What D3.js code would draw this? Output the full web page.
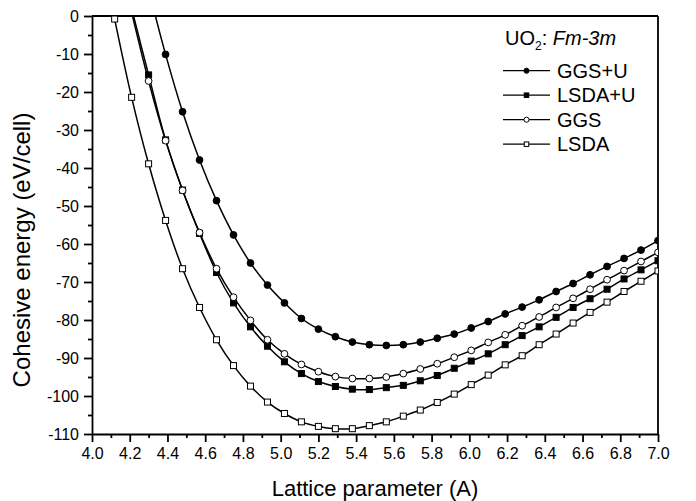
<!DOCTYPE html>
<html>
<head>
<meta charset="utf-8">
<script src="https://cdn.jsdelivr.net/npm/d3@7"></script>
<style>
  html, body { margin: 0; padding: 0; background: #fff; }
  svg { display: block; font-family: "Liberation Sans", Arial, Helvetica, sans-serif; }
</style>
</head>
<body>
<svg id="chart" width="696" height="501"></svg>
<script>
// ---- data ----
const lattice = [4.12, 4.21, 4.30, 4.39, 4.48, 4.57, 4.66, 4.75, 4.84, 4.93, 5.02, 5.11, 5.20, 5.29, 5.38, 5.47, 5.56,
                 5.65, 5.74, 5.83, 5.92, 6.01, 6.10, 6.19, 6.28, 6.37, 6.46, 6.55, 6.64, 6.73, 6.82, 6.91, 7.00];
const ggsU = [null, null, 7, -10.1, -25.2, -37.9, -48.6, -57.6, -65.0, -70.8, -75.5, -79.6, -82.4, -84.4, -85.8, -86.5, -86.7,
              -86.5, -85.8, -84.8, -83.7, -82.1, -80.4, -78.4, -76.6, -74.7, -72.5, -70.4, -68.1, -65.9, -63.8, -61.6, -59.1];
const lsdaU = [null, 2, -15.5, -32.6, -45.8, -57.2, -67.5, -75.5, -81.8, -86.9, -91.0, -94.1, -96.2, -97.5, -98.2, -98.3, -97.8,
               -97.2, -96.0, -94.6, -92.7, -90.8, -88.9, -86.5, -84.1, -81.8, -79.3, -76.7, -74.4, -71.9, -69.2, -66.8, -64.4];
const ggs = [null, 1, -17.1, -32.8, -45.9, -57.0, -66.5, -74.0, -80.1, -85.2, -88.9, -91.7, -93.6, -94.9, -95.4, -95.4, -95.0,
             -94.1, -92.9, -91.5, -89.8, -88.0, -85.9, -83.9, -81.5, -79.2, -76.7, -74.3, -71.9, -69.4, -67.0, -64.6, -62.2];
const lsda = [-0.8, -21.4, -38.9, -53.8, -66.5, -76.7, -85.2, -92.0, -97.4, -101.6, -104.6, -106.8, -108.0, -108.6, -108.6, -107.8, -106.8,
              -105.3, -103.7, -101.7, -99.5, -97.0, -94.5, -91.8, -89.4, -86.5, -83.7, -80.8, -78.0, -75.3, -72.5, -69.8, -67.1];
const seriesNames = ["GGS+U", "LSDA+U", "GGS", "LSDA"];
const seriesValues = [ggsU, lsdaU, ggs, lsda];
const seriesMarkers = ["filledCircle", "filledSquare", "openCircle", "openSquare"];
const xTickValues = [4.0, 4.2, 4.4, 4.6, 4.8, 5.0, 5.2, 5.4, 5.6, 5.8, 6.0, 6.2, 6.4, 6.6, 6.8, 7.0];
const yTickValues = [0, -10, -20, -30, -40, -50, -60, -70, -80, -90, -100, -110];
const xTitle = "Lattice parameter (A)";
const yTitle = "Cohesive energy (eV/cell)";

// ---- layout ----
const svg = d3.select("#chart");
const L = 92, R = 658, T = 16, B = 434;
const x = d3.scaleLinear().domain([4.0, 7.0]).range([L, R]);
const y = d3.scaleLinear().domain([-110, 0]).range([B, T]);

svg.append("defs").append("clipPath").attr("id", "plotclip")
  .append("rect").attr("x", L).attr("y", T).attr("width", R - L).attr("height", B - T);

// minor ticks
const xMinor = d3.range(4.1, 7.0, 0.2);
const yMinor = d3.range(-105, 0, 10);

const xAxis = d3.axisBottom(x).tickValues(xTickValues).tickFormat(d3.format(".1f")).tickSize(8).tickSizeOuter(0).tickPadding(6);
svg.append("g").attr("transform", `translate(0,${B})`).call(xAxis);
svg.append("g").attr("transform", `translate(0,${B})`)
  .call(d3.axisBottom(x).tickValues(xMinor).tickSize(4).tickFormat("").tickSizeOuter(0))
  .select(".domain").remove();

const yAxis = d3.axisLeft(y).tickValues(yTickValues).tickFormat(d => d === 0 ? "0" : "-" + Math.abs(d)).tickSize(8).tickSizeOuter(0).tickPadding(5);
svg.append("g").attr("transform", `translate(${L},0)`).call(yAxis);
svg.append("g").attr("transform", `translate(${L},0)`)
  .call(d3.axisLeft(y).tickValues(yMinor).tickSize(4).tickFormat("").tickSizeOuter(0))
  .select(".domain").remove();

svg.selectAll(".tick line").attr("stroke", "#000").attr("stroke-width", 1.8);
svg.selectAll(".domain").attr("stroke", "#000").attr("stroke-width", 1.8);
svg.selectAll(".tick text").attr("fill", "#000").attr("font-size", 16)
  .attr("font-family", "'Liberation Sans', Arial, sans-serif");

// top & right frame lines
svg.append("line").attr("x1", L).attr("x2", R).attr("y1", T).attr("y2", T).attr("stroke", "#000").attr("stroke-width", 1.8);
svg.append("line").attr("x1", R).attr("x2", R).attr("y1", T).attr("y2", B).attr("stroke", "#000").attr("stroke-width", 1.8);

// axis titles
svg.append("text").attr("x", (L + R) / 2).attr("y", 496).attr("text-anchor", "middle")
  .attr("font-size", 22).attr("fill", "#000").text(xTitle);
svg.append("text").attr("transform", `translate(30,250) rotate(-90)`).attr("text-anchor", "middle")
  .attr("font-size", 24).attr("fill", "#000").text(yTitle);

// series
const line = d3.line()
  .x(d => x(d.x)).y(d => y(d.v))
  .curve(d3.curveCatmullRom.alpha(0.5));

function drawMarker(g, type, cx, cy, scale) {
  const s = scale || 1;
  if (type === "filledCircle" || type === "openCircle") {
    g.append("circle").attr("cx", cx).attr("cy", cy).attr("r", 3.4 * s)
      .attr("fill", type === "filledCircle" ? "#000" : "#fff").attr("stroke", "#000").attr("stroke-width", 1);
  } else {
    const h = 3.0 * s;
    g.append("rect").attr("x", cx - h).attr("y", cy - h).attr("width", 2 * h).attr("height", 2 * h)
      .attr("fill", type === "filledSquare" ? "#000" : "#fff").attr("stroke", "#000").attr("stroke-width", 1);
  }
}

const plot = svg.append("g").attr("clip-path", "url(#plotclip)");
seriesValues.forEach((vals) => {
  const pts = lattice.map((lx, k) => ({ x: lx, v: vals[k] })).filter(d => d.v !== null);
  plot.append("path").datum(pts).attr("d", line).attr("fill", "none").attr("stroke", "#000").attr("stroke-width", 1.5);
});
seriesValues.forEach((vals, i) => {
  const g = plot.append("g");
  lattice.forEach((lx, k) => {
    const v = vals[k];
    if (v === null || v > 0) return;
    drawMarker(g, seriesMarkers[i], x(lx), y(v));
  });
});

// legend
const lg = svg.append("g");
const title = lg.append("text").attr("x", 505).attr("y", 45).attr("font-size", 20).attr("fill", "#000");
title.append("tspan").text("UO");
title.append("tspan").attr("font-size", 12).attr("dy", 5).text("2");
title.append("tspan").attr("dy", -5).text(": ");
title.append("tspan").attr("font-style", "italic").text("Fm-3m");

seriesNames.forEach((name, i) => {
  const cy = 70.7 + i * 24.5;
  lg.append("line").attr("x1", 503).attr("x2", 550).attr("y1", cy).attr("y2", cy).attr("stroke", "#000").attr("stroke-width", 1.2);
  drawMarker(lg, seriesMarkers[i], 526.5, cy, 0.75);
  lg.append("text").attr("x", 557).attr("y", cy + 7).attr("font-size", 20).attr("fill", "#000").text(name);
});
</script>
</body>
</html>
